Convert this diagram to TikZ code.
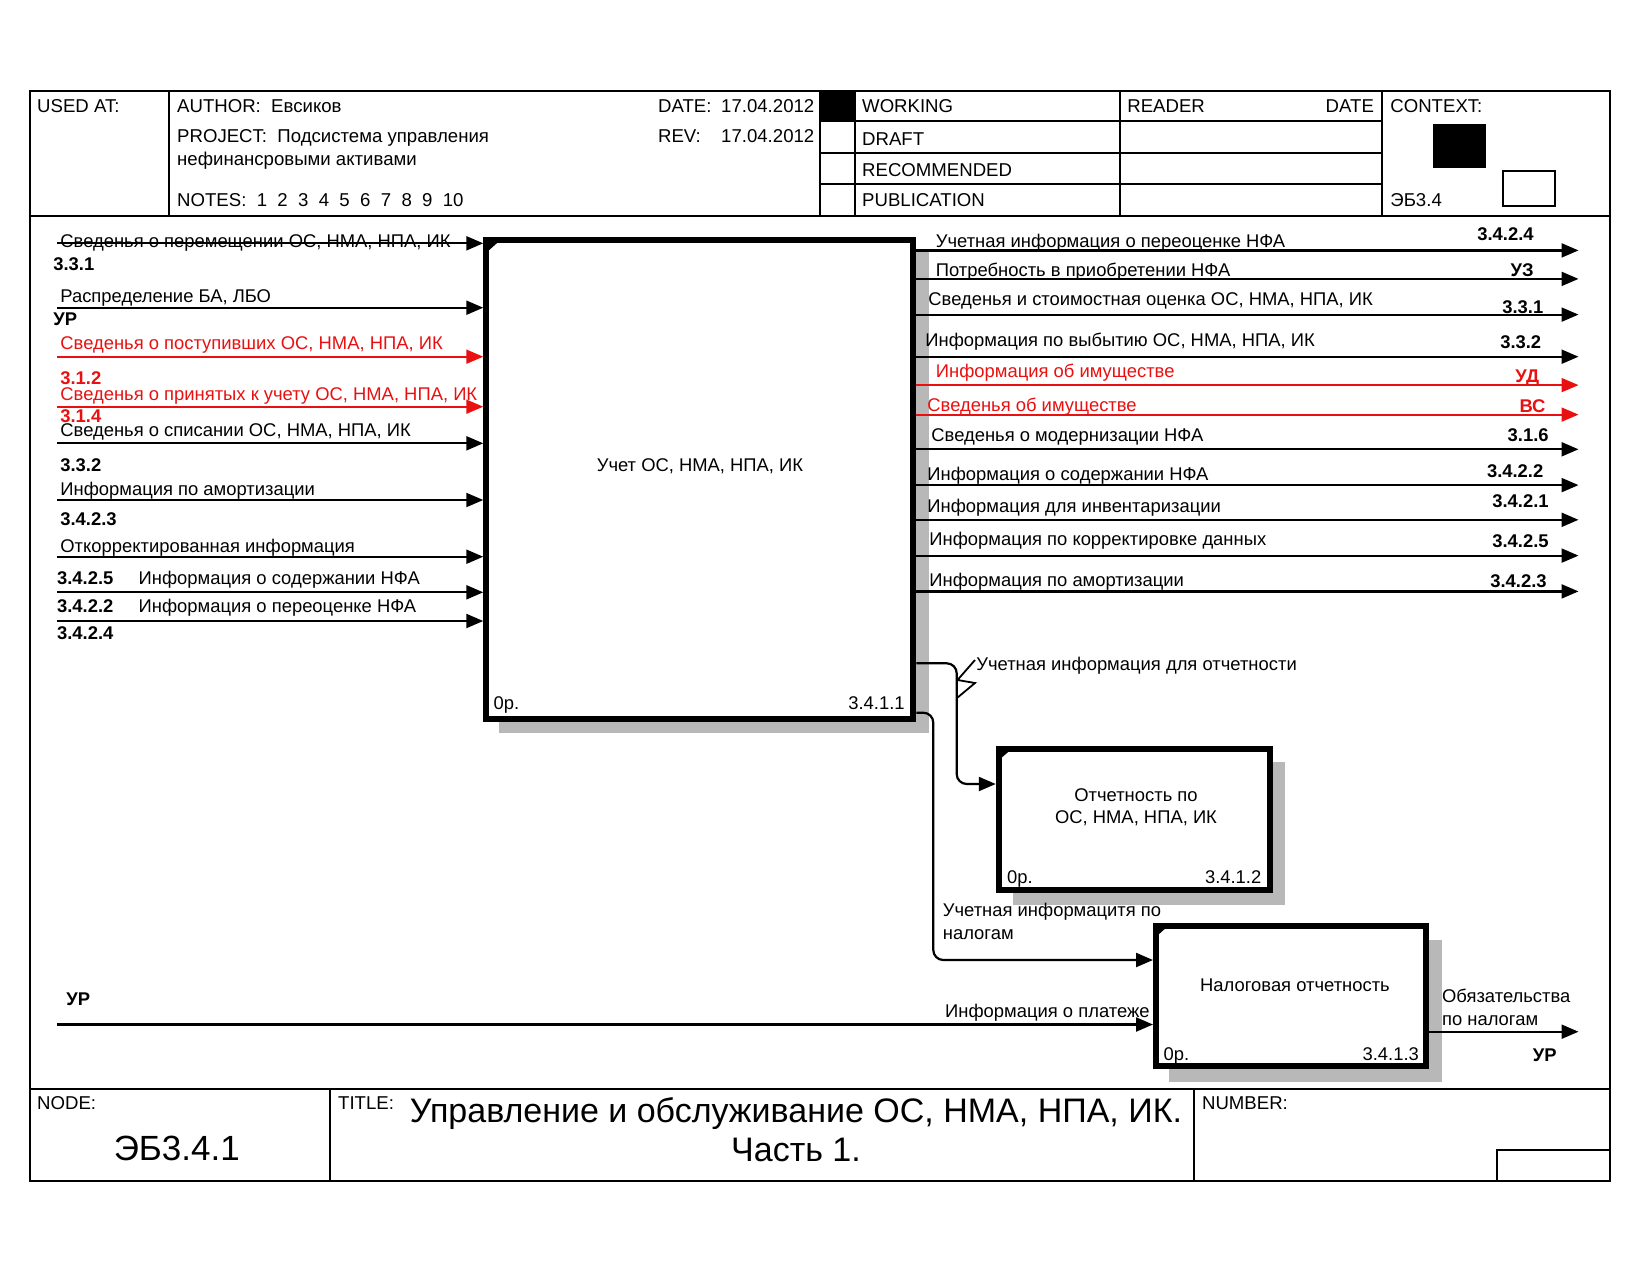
\documentclass[tikz,border=0pt]{standalone}
\usepackage{fontspec}
\setmainfont{Liberation Sans}
\usetikzlibrary{arrows.meta}
\definecolor{idefred}{RGB}{232,16,16}
\tikzset{
  lbl/.style={inner sep=0pt, anchor=west, text height=6.6pt, text depth=1.9pt, yshift=-1.5pt, font=\fontsize{9.2}{11}\selectfont},
  lble/.style={lbl, anchor=east},
  num/.style={lbl, font=\fontsize{9.2}{11}\selectfont\bfseries},
  nume/.style={num, anchor=east},
  hdr/.style={inner sep=0pt, anchor=west, text height=6.8pt, text depth=1.9pt, yshift=-1.5pt, font=\fontsize{9.3}{11}\selectfont},
  arr/.style={line width=1.1pt, -{Triangle[length=8.5pt,width=7pt]}},
  redarr/.style={arr, draw=idefred, line width=0.9pt},
  actbox/.style={draw, line width=3pt, fill=white, inner sep=0pt},
  shade/.style={fill=black!28},
  frm/.style={line width=1pt},
  conn/.style={line width=1.1pt, rounded corners=5pt},
}
\begin{document}
\begin{tikzpicture}[x=0.5pt,y=-0.5pt]
\useasboundingbox (0,0) rectangle (1650,1275);

% ---------- frame ----------
\draw[frm] (29.5,90.5) rectangle (1610,1181);
\draw[frm] (29.5,215.7) -- (1610,215.7);
\draw[frm] (29.5,1089) -- (1610,1089);
\foreach \x in {169.4,819.7,854.5,1119.6,1381.7} \draw[frm] (\x,90.5) -- (\x,215.7);
\foreach \y in {121,152.6,184.2} \draw[frm] (819.7,\y) -- (1381.7,\y);
\fill (819.7,90.5) rectangle (854.5,121);
\fill (1433,124) rectangle (1486,168);
\draw[frm] (1502.7,170.5) rectangle (1555,206);
\draw[frm] (330.4,1089) -- (330.4,1181);
\draw[frm] (1194.4,1089) -- (1194.4,1181);
\draw[frm] (1497.4,1181) -- (1497.4,1150) -- (1610,1150);

% ---------- header text ----------
\node[hdr] (hused) at (36.8,105) {USED AT:};
\node[hdr] (hauth) at (176.8,105) {AUTHOR:\ \ Евсиков};
\node[hdr] (hproj) at (176.8,134.7) {PROJECT:\ \ Подсистема управления};
\node[hdr] (hproj2) at (176.8,157.8) {нефинансровыми активами};
\node[hdr] (hnotes) at (176.8,198.9) {NOTES:\ \ 1\ \ 2\ \ 3\ \ 4\ \ 5\ \ 6\ \ 7\ \ 8\ \ 9\ \ 10};
\node[hdr] (hdate) at (657.7,105) {DATE:};
\node[hdr] (hdatev) at (720.8,105) {17.04.2012};
\node[hdr] (hrev) at (657.7,134.7) {REV:};
\node[hdr] (hrevv) at (720.8,134.7) {17.04.2012};
\node[hdr] (hwork) at (861.8,105) {WORKING};
\node[hdr] (hdraft) at (861.8,137.2) {DRAFT};
\node[hdr] (hrec) at (861.8,168.4) {RECOMMENDED};
\node[hdr] (hpub) at (861.8,198.9) {PUBLICATION};
\node[hdr] (hread) at (1127,105) {READER};
\node[hdr, anchor=east] (hrdate) at (1374.3,105) {DATE};
\node[hdr] (hctx) at (1390,105) {CONTEXT:};
\node[hdr] (hctxv) at (1390,198.9) {ЭБ3.4};

% ---------- footer text ----------
\node[hdr] (fnode) at (36.8,1101.8) {NODE:};
\node[inner sep=0pt, font=\fontsize{17.5}{20}\selectfont] (fnodev) at (176.8,1148) {ЭБ3.4.1};
\node[hdr] (ftitle) at (337.8,1101.8) {TITLE:};
\node[inner sep=0pt, align=center, font=\fontsize{17}{19.5}\selectfont] (ftitlev) at (796,1130) {Управление и обслуживание ОС, НМА, НПА, ИК.\\Часть 1.};
\node[hdr] (fnum) at (1201.7,1101.8) {NUMBER:};

% ---------- shadows ----------
\fill[shade] (916,250) rectangle (929,733);
\fill[shade] (499,720) rectangle (929,733);
\fill[shade] (1272,762) rectangle (1285,905);
\fill[shade] (1013,893) rectangle (1285,905);
\fill[shade] (1429,940) rectangle (1442,1082);
\fill[shade] (1169,1068) rectangle (1442,1082);

% ---------- activity boxes ----------
\node[actbox, minimum width=213.5pt, minimum height=239.5pt] (b1) at (699.75,479) {};
\node[actbox, minimum width=135.5pt, minimum height=70.5pt] (b2) at (1134.25,819.5) {};
\node[actbox, minimum width=135pt, minimum height=70pt] (b3) at (1291,995.5) {};
\fill (b1.north west) ++(1.5,1.5) -- ++(18,0) -- ++(-18,16) -- cycle;
\fill (b2.north west) ++(1.5,1.5) -- ++(16,0) -- ++(-16,14) -- cycle;
\fill (b3.north west) ++(1.5,1.5) -- ++(16,0) -- ++(-16,14) -- cycle;

\node[lbl, anchor=center] (b1t) at (700,464) {Учет ОС, НМА, НПА, ИК};
\node[lbl] (b1o) at (493.3,702) {0р.};
\node[lble] (b1n) at (905,702) {3.4.1.1};
\node[lbl, anchor=center] (b2t) at (1136,794) {Отчетность по};
\node[lbl, anchor=center] (b2t2) at (1136,816) {ОС, НМА, НПА, ИК};
\node[lbl] (b2o) at (1006.7,876) {0р.};
\node[lble] (b2n) at (1261.7,876) {3.4.1.2};
\node[lbl, anchor=center] (b3t) at (1295,983.3) {Налоговая отчетность};
\node[lbl] (b3o) at (1163.3,1053) {0р.};
\node[lble] (b3n) at (1419.3,1053) {3.4.1.3};

% ---------- left inputs ----------
\coordinate (L1) at (56.8,243.3);
\coordinate (L2) at (56.8,307.7);
\coordinate (L3) at (56.8,356.7);
\coordinate (L4) at (56.8,406.7);
\coordinate (L5) at (56.8,443.3);
\coordinate (L6) at (56.8,500);
\coordinate (L7) at (56.8,556.7);
\coordinate (L8) at (56.8,592.3);
\coordinate (L9) at (56.8,621);
\draw[arr] (L1) -- (L1 -| b1.west);
\draw[arr] (L2) -- (L2 -| b1.west);
\draw[redarr] (L3) -- (L3 -| b1.west);
\draw[redarr] (L4) -- (L4 -| b1.west);
\draw[arr] (L5) -- (L5 -| b1.west);
\draw[arr] (L6) -- (L6 -| b1.west);
\draw[arr] (L7) -- (L7 -| b1.west);
\draw[arr] (L8) -- (L8 -| b1.west);
\draw[arr] (L9) -- (L9 -| b1.west);

\node[lbl] (lt1) at (60,240) {Сведенья о перемещении ОС, НМА, НПА, ИК};
\node[num] (ln1) at (53,263) {3.3.1};
\node[lbl] (lt2) at (60,295) {Распределение БА, ЛБО};
\node[num] (ln2) at (53,318) {УР};
\node[lbl, text=idefred] (lt3) at (60,341.7) {Сведенья о поступивших ОС, НМА, НПА, ИК};
\node[num, text=idefred] (ln3) at (60,376.7) {3.1.2};
\node[lbl, text=idefred] (lt4) at (60,392.5) {Сведенья о принятых к учету ОС, НМА, НПА, ИК};
\node[num, text=idefred] (ln4) at (60,415) {3.1.4};
\node[lbl] (lt5) at (60,428.3) {Сведенья о списании ОС, НМА, НПА, ИК};
\node[num] (ln5) at (60,463.3) {3.3.2};
\node[lbl] (lt6) at (60,487.3) {Информация по амортизации};
\node[num] (ln6) at (60,517.3) {3.4.2.3};
\node[lbl] (lt7) at (60,544.3) {Откорректированная информация};
\node[num] (ln7) at (56.7,576.7) {3.4.2.5};
\node[lbl] (lt8) at (138.3,576.7) {Информация о содержании НФА};
\node[num] (ln8) at (56.7,605) {3.4.2.2};
\node[lbl] (lt9) at (138.3,605) {Информация о переоценке НФА};
\node[num] (ln9) at (56.7,631.7) {3.4.2.4};

% ---------- right outputs ----------
\coordinate (R1) at (1578.5,250.4);
\coordinate (R2) at (1578.5,278.9);
\coordinate (R3) at (1578.5,314.6);
\coordinate (R4) at (1578.5,356.7);
\coordinate (R5) at (1578.5,385.1);
\coordinate (R6) at (1578.5,414.6);
\coordinate (R7) at (1578.5,449.3);
\coordinate (R8) at (1578.5,485.1);
\coordinate (R9) at (1578.5,519.8);
\coordinate (R10) at (1578.5,555.6);
\coordinate (R11) at (1578.5,591.4);
\draw[arr] (R1 -| b1.east) -- (R1);
\draw[arr] (R2 -| b1.east) -- (R2);
\draw[arr] (R3 -| b1.east) -- (R3);
\draw[arr] (R4 -| b1.east) -- (R4);
\draw[redarr] (R5 -| b1.east) -- (R5);
\draw[redarr] (R6 -| b1.east) -- (R6);
\draw[arr] (R7 -| b1.east) -- (R7);
\draw[arr] (R8 -| b1.east) -- (R8);
\draw[arr] (R9 -| b1.east) -- (R9);
\draw[arr] (R10 -| b1.east) -- (R10);
\draw[arr] (R11 -| b1.east) -- (R11);

\node[lbl] (rt1) at (935.5,239.9) {Учетная информация о переоценке НФА};
\node[nume] (rn1) at (1534,232.6) {3.4.2.4};
\node[lbl] (rt2) at (935.5,268.5) {Потребность в приобретении НФА};
\node[nume] (rn2) at (1534,268.5) {УЗ};
\node[lbl] (rt3) at (928,297.8) {Сведенья и стоимостная оценка ОС, НМА, НПА, ИК};
\node[nume] (rn3) at (1543.7,306.2) {3.3.1};
\node[lbl] (rt4) at (925,338.8) {Информация по выбытию ОС, НМА, НПА, ИК};
\node[nume] (rn4) at (1541.6,341) {3.3.2};
\node[lbl, text=idefred] (rt5) at (935.5,369.4) {Информация об имуществе};
\node[nume, text=idefred] (rn5) at (1539.5,374.6) {УД};
\node[lbl, text=idefred] (rt6) at (927,404) {Сведенья об имуществе};
\node[nume, text=idefred] (rn6) at (1545.8,405) {ВС};
\node[lbl] (rt7) at (931,433.5) {Сведенья о модернизации НФА};
\node[nume] (rn7) at (1549,433.5) {3.1.6};
\node[lbl] (rt8) at (927,472.5) {Информация о содержании НФА};
\node[nume] (rn8) at (1543.7,469.3) {3.4.2.2};
\node[lbl] (rt9) at (927,505.1) {Информация для инвентаризации};
\node[nume] (rn9) at (1549,499.8) {3.4.2.1};
\node[lbl] (rt10) at (929,537.7) {Информация по корректировке данных};
\node[nume] (rn10) at (1549,539.8) {3.4.2.5};
\node[lbl] (rt11) at (929,578.8) {Информация по амортизации};
\node[nume] (rn11) at (1547,579.8) {3.4.2.3};

% ---------- internal connectors ----------
\coordinate (c1a) at (916,663.3);
\coordinate (c1b) at (956.7,784);
\draw[conn, arr] (c1a -| b1.east) -| (c1b) -- (c1b -| b2.west);
\draw[line width=0.9pt] (957,698) -- (975,683) -- (957.5,680) -- (975,660);
\node[lbl] (cl1) at (976,663) {Учетная информация для отчетности};

\coordinate (c2a) at (916,712.7);
\coordinate (c2b) at (933.3,960);
\draw[conn, arr] (c2a -| b1.east) -| (c2b) -- (c2b -| b3.west);
\node[lbl] (cl2a) at (942.5,908.3) {Учетная информацитя по};
\node[lbl] (cl2b) at (942.5,931.7) {налогам};

\coordinate (c3a) at (56.8,1024.5);
\draw[arr] (c3a) -- (c3a -| b3.west);
\node[num] (cl3n) at (66,997.6) {УР};
\node[lble] (cl3) at (1150,1010) {Информация о платеже};

\coordinate (c4b) at (1578.5,1031.7);
\draw[arr] (c4b -| b3.east) -- (c4b);
\node[lbl] (cl4a) at (1441.7,995) {Обязательства};
\node[lbl] (cl4b) at (1441.7,1017.3) {по налогам};
\node[nume] (cl4n) at (1557,1054) {УР};
\end{tikzpicture}
\end{document}
